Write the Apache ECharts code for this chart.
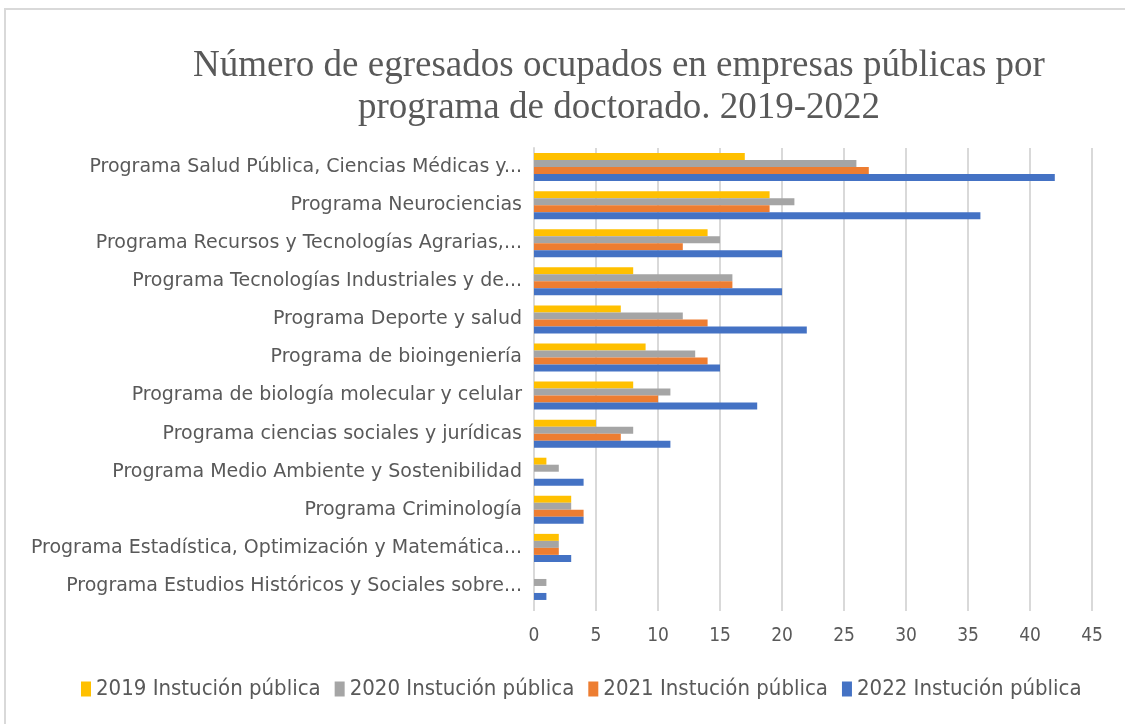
<!DOCTYPE html>
<html>
<head>
<meta charset="utf-8">
<script src="https://cdn.jsdelivr.net/npm/echarts@6/dist/echarts.min.js"></script>
<style>
  html, body { margin: 0; padding: 0; background: #fff; }
  #frame { position: absolute; left: 4px; top: 8px; width: 1125px; height: 724px; border: 2px solid #d9d9d9; box-sizing: border-box; }
  #chart { position: absolute; left: 0; top: 0; width: 1125px; height: 724px; }
</style>
</head>
<body>
<div id="frame"></div>
<div id="chart"></div>
<script>
// categories top to bottom
const programas = [
  'Programa Salud Pública, Ciencias Médicas y...',
  'Programa Neurociencias',
  'Programa Recursos y Tecnologías Agrarias,...',
  'Programa Tecnologías Industriales y de...',
  'Programa Deporte y salud',
  'Programa de bioingeniería',
  'Programa de biología molecular y celular',
  'Programa ciencias sociales y jurídicas',
  'Programa Medio Ambiente y Sostenibilidad',
  'Programa Criminología',
  'Programa Estadística, Optimización y Matemática...',
  'Programa Estudios Históricos y Sociales sobre...'
];
const v2019 = [17, 19, 14, 8, 7, 9, 8, 5, 1, 3, 2, 0];
const v2020 = [26, 21, 15, 16, 12, 13, 11, 8, 2, 3, 2, 1];
const v2021 = [27, 19, 12, 16, 14, 14, 10, 7, 0, 4, 2, 0];
const v2022 = [42, 36, 20, 20, 22, 15, 18, 11, 4, 4, 3, 1];
const nombres = ['2019 Instución pública', '2020 Instución pública', '2021 Instución pública', '2022 Instución pública'];
const colores = ['#ffc000', '#a5a5a5', '#ed7d31', '#4472c4'];

const chart = echarts.init(document.getElementById('chart'));
const serie = (i, data) => ({
  name: nombres[i],
  type: 'bar',
  data: data,
  barWidth: 7,
  barGap: '0%',
  itemStyle: { color: colores[i] }
});
chart.setOption({
  animation: false,
  title: {
    text: 'Número de egresados ocupados en empresas públicas por\nprograma de doctorado. 2019-2022',
    left: 614,
    textAlign: 'center',
    top: 40,
    textStyle: { fontFamily: 'Liberation Serif', fontSize: 37, fontWeight: 'normal', color: '#595959', lineHeight: 42 }
  },
  legend: {
    bottom: 19,
    left: 76,
    itemWidth: 10,
    itemHeight: 15,
    itemGap: 14,
    icon: 'rect',
    textStyle: { fontFamily: 'DejaVu Sans Condensed', fontSize: 22, color: '#595959' },
    data: nombres
  },
  grid: { left: 534, right: 33, top: 148, bottom: 119, containLabel: false },
  xAxis: {
    type: 'value',
    min: 0, max: 45, interval: 5,
    axisLine: { show: false },
    axisTick: { show: true, length: 6, lineStyle: { color: '#d9d9d9', width: 2 } },
    axisLabel: { fontFamily: 'DejaVu Sans Condensed', fontSize: 19, color: '#595959', margin: 22 },
    splitLine: { lineStyle: { color: '#d9d9d9', width: 2 } }
  },
  yAxis: {
    type: 'category',
    inverse: true,
    data: programas,
    axisLine: { lineStyle: { color: '#d9d9d9', width: 2 } },
    axisTick: { show: false },
    axisLabel: { fontFamily: 'DejaVu Sans', fontSize: 19, color: '#595959', margin: 12 }
  },
  series: [serie(0, v2019), serie(1, v2020), serie(2, v2021), serie(3, v2022)]
});
</script>
</body>
</html>
